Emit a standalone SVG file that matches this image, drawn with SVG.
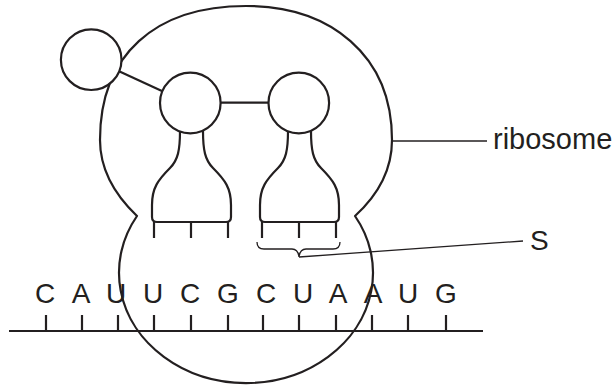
<svg xmlns="http://www.w3.org/2000/svg" width="614" height="385" viewBox="0 0 614 385">
<style>
.s{fill:none;stroke:#231f20;stroke-width:2.2;stroke-linejoin:round;stroke-linecap:butt}
.c{fill:#fff;stroke:#231f20;stroke-width:2.2}
.t{fill:none;stroke:#231f20;stroke-width:1.3}
.b{font-family:"Liberation Sans",Arial,sans-serif;font-size:28px;fill:#231f20;text-anchor:middle}
.l{font-family:"Liberation Sans",Arial,sans-serif;fill:#231f20}
</style>
<rect width="614" height="385" fill="#fff"/>
<g id="ribosome">
<path class="s" d="M137,216 C115,195 100,170 100,140 C100,55 155,6 246,6 C330,6 392,55 392,140 C392,170 378,195 355,216 A127,110.4 0 1 1 137,216 Z"/>
</g>
<g id="mRNA">
<line class="s" x1="9" y1="331" x2="483" y2="331"/>
<path class="s" d="M46,315V331M82,315V331M118,315V331M154,315V331M191,315V331M228,315V331M263,315V331M299,315V331M336,315V331M372,315V331M408,315V331M446,315V331"/>
<text class="b" y="303"><tspan x="45">C</tspan><tspan x="81">A</tspan><tspan x="116">U</tspan><tspan x="153">U</tspan><tspan x="190">C</tspan><tspan x="228">G</tspan><tspan x="266">C</tspan><tspan x="303">U</tspan><tspan x="338">A</tspan><tspan x="373">A</tspan><tspan x="408">U</tspan><tspan x="446">G</tspan></text>
</g>
<g id="tRNA1">
<path class="s" d="M180,131 C180,150 178,160 170,168 C158,180 152,188 152,205 L152,217 Q152,222 157,222 H226 Q231,222 231,217 V205 C231,188 225,180 213,168 C205,160 203,150 203,131"/>
<path class="s" d="M154,222V238M191,222V238M228,222V238"/>
</g>
<g id="tRNA2" transform="translate(108,0)">
<path class="s" d="M180,131 C180,150 178,160 170,168 C158,180 152,188 152,205 L152,217 Q152,222 157,222 H226 Q231,222 231,217 V205 C231,188 225,180 213,168 C205,160 203,150 203,131"/>
<path class="s" d="M154,222V238M191,222V238M228,222V238"/>
</g>
<g id="connectors">
<line class="s" x1="118.5" y1="71" x2="163" y2="91.5"/>
<line class="s" x1="220.5" y1="102.7" x2="268.5" y2="102.7"/>
<line class="t" x1="392" y1="141" x2="487" y2="141"/>
<line class="t" x1="299" y1="257" x2="523" y2="241"/>
</g>
<g id="aminoacid1"><circle class="c" cx="91.2" cy="59.7" r="30.3"/></g>
<g id="aminoacid2"><circle class="c" cx="190.3" cy="103" r="30.3"/></g>
<g id="aminoacid3"><circle class="c" cx="298.8" cy="103" r="30.3"/></g>
<g id="S-brace">
<path class="t" d="M257,242 Q257,249 264,249 L292,249 Q298,249 299,257 Q300,249 306,249 L333,249 Q340,249 340,242"/>
</g>
<g id="labels">
<text class="l" x="493" y="149" font-size="29">ribosome</text>
<text class="l" x="530" y="250" font-size="28">S</text>
</g>
</svg>
